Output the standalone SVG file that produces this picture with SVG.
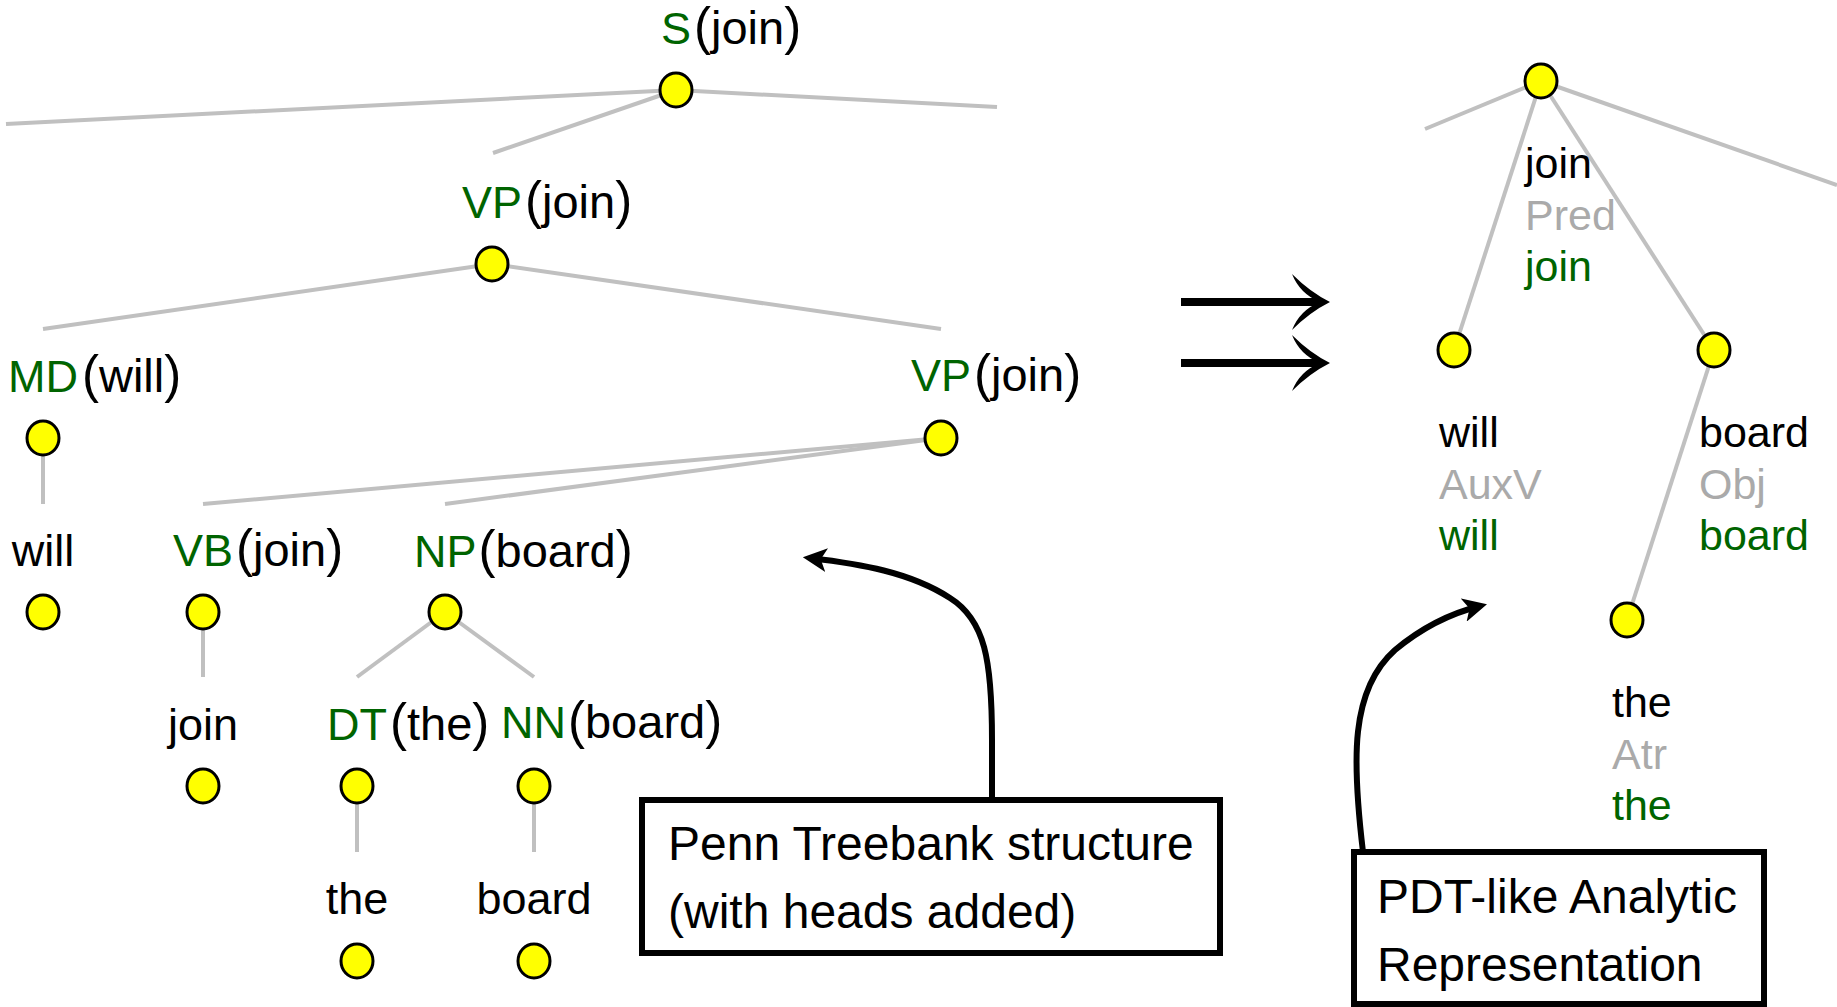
<svg xmlns="http://www.w3.org/2000/svg" width="1837" height="1007" viewBox="0 0 1837 1007">
  <style>
    text { font-family: "Liberation Sans", Arial, sans-serif; fill: #000; }
    .lbl { font-size: 45px; }
    .w { font-size: 47px; }
    .p { font-size: 51px; }
    .rl { font-size: 43px; }
    .box-text { font-size: 48px; }
    .tag { fill: #006400; }
    .func { fill: #aaaaaa; }
    .edge { stroke: #c0c0c0; stroke-width: 4; fill: none; }
    .node { fill: #ffff00; stroke: #000; stroke-width: 3; }
    .callout { stroke: #000; stroke-width: 6; fill: none; marker-end: url(#head); }
    .box { fill: #fff; stroke: #000; stroke-width: 6; }
  </style>
  <defs>
    <marker id="head" viewBox="0 0 10 10" refX="7" refY="5" markerWidth="4" markerHeight="4" orient="auto" markerUnits="strokeWidth">
      <path d="M0,0 L10,5 L0,10 L2.5,5 Z" fill="#000"/>
    </marker>
    <!-- curved double-barb head for the transformation arrows -->
    <path id="barbs" d="M0,0 Q-20,-10 -38,-28 Q-30,-8 -10,0 Q-30,8 -38,28 Q-20,10 0,0 Z" fill="#000"/>
  </defs>

  <rect width="1837" height="1007" fill="#fff"/>

  <!-- tree edges -->
  <g id="connectors">
    <!-- constituency tree -->
    <line class="edge" x1="676" y1="90" x2="6" y2="124"/>
    <line class="edge" x1="676" y1="90" x2="997" y2="107"/>
    <line class="edge" x1="676" y1="90" x2="493" y2="153"/>
    <line class="edge" x1="492" y1="264" x2="43" y2="329"/>
    <line class="edge" x1="492" y1="264" x2="941" y2="329"/>
    <line class="edge" x1="43" y1="438" x2="43" y2="504"/>
    <line class="edge" x1="941" y1="438" x2="203" y2="504"/>
    <line class="edge" x1="941" y1="438" x2="445" y2="504"/>
    <line class="edge" x1="203" y1="612" x2="203" y2="677"/>
    <line class="edge" x1="445" y1="612" x2="357" y2="677"/>
    <line class="edge" x1="445" y1="612" x2="534" y2="677"/>
    <line class="edge" x1="357" y1="786" x2="357" y2="852"/>
    <line class="edge" x1="534" y1="786" x2="534" y2="852"/>
    <!-- dependency tree -->
    <line class="edge" x1="1541" y1="81" x2="1425" y2="129"/>
    <line class="edge" x1="1541" y1="81" x2="1837" y2="185"/>
    <line class="edge" x1="1541" y1="81" x2="1454" y2="350"/>
    <line class="edge" x1="1541" y1="81" x2="1714" y2="350"/>
    <line class="edge" x1="1714" y1="350" x2="1627" y2="620"/>
    <!-- transformation arrows -->
    <line x1="1181" y1="302" x2="1322" y2="302" stroke="#000" stroke-width="8"/>
    <use href="#barbs" x="1330" y="302"/>
    <line x1="1181" y1="363" x2="1322" y2="363" stroke="#000" stroke-width="8"/>
    <use href="#barbs" x="1330" y="363"/>
    <!-- callout pointers -->
    <path class="callout" d="M992,800 L992,740 C992,660 985,620 950,598 C910,572 860,564 810,558"/>
    <path class="callout" d="M1363,852 C1352,760 1350,690 1395,650 C1425,625 1452,613 1480,606"/>
  </g>

  <!-- constituency tree nodes -->
  <g id="n-s">
    <ellipse class="node" cx="676" cy="90" rx="16" ry="17"/>
    <text class="lbl" x="661" y="44"><tspan class="tag">S</tspan><tspan class="p" dx="3">(</tspan><tspan class="w">join</tspan><tspan class="p">)</tspan></text>
  </g>
  <g id="n-vp1">
    <ellipse class="node" cx="492" cy="264" rx="16" ry="17"/>
    <text class="lbl" x="462" y="218"><tspan class="tag">VP</tspan><tspan class="p" dx="3">(</tspan><tspan class="w">join</tspan><tspan class="p">)</tspan></text>
  </g>
  <g id="n-md">
    <ellipse class="node" cx="43" cy="438" rx="16" ry="17"/>
    <text class="lbl" x="8" y="392"><tspan class="tag">MD</tspan><tspan class="p" dx="4">(</tspan><tspan class="w">will</tspan><tspan class="p">)</tspan></text>
  </g>
  <g id="n-vp2">
    <ellipse class="node" cx="941" cy="438" rx="16" ry="17"/>
    <text class="lbl" x="911" y="391"><tspan class="tag">VP</tspan><tspan class="p" dx="3">(</tspan><tspan class="w">join</tspan><tspan class="p">)</tspan></text>
  </g>
  <g id="n-will">
    <ellipse class="node" cx="43" cy="612" rx="16" ry="17"/>
    <text class="lbl" x="43" y="566" text-anchor="middle">will</text>
  </g>
  <g id="n-vb">
    <ellipse class="node" cx="203" cy="612" rx="16" ry="17"/>
    <text class="lbl" x="173" y="566"><tspan class="tag">VB</tspan><tspan class="p" dx="3">(</tspan><tspan class="w">join</tspan><tspan class="p">)</tspan></text>
  </g>
  <g id="n-np">
    <ellipse class="node" cx="445" cy="612" rx="16" ry="17"/>
    <text class="lbl" x="414" y="567"><tspan class="tag">NP</tspan><tspan class="p" dx="2">(</tspan><tspan class="w">board</tspan><tspan class="p">)</tspan></text>
  </g>
  <g id="n-join">
    <ellipse class="node" cx="203" cy="786" rx="16" ry="17"/>
    <text class="lbl" x="203" y="740" text-anchor="middle">join</text>
  </g>
  <g id="n-dt">
    <ellipse class="node" cx="357" cy="786" rx="16" ry="17"/>
    <text class="lbl" x="327" y="740"><tspan class="tag">DT</tspan><tspan class="p" dx="3">(</tspan><tspan class="w">the</tspan><tspan class="p">)</tspan></text>
  </g>
  <g id="n-nn">
    <ellipse class="node" cx="534" cy="786" rx="16" ry="17"/>
    <text class="lbl" x="501" y="738"><tspan class="tag">NN</tspan><tspan class="p" dx="2">(</tspan><tspan class="w">board</tspan><tspan class="p">)</tspan></text>
  </g>
  <g id="n-the">
    <ellipse class="node" cx="357" cy="961" rx="16" ry="17"/>
    <text class="lbl" x="357" y="914" text-anchor="middle">the</text>
  </g>
  <g id="n-board">
    <ellipse class="node" cx="534" cy="961" rx="16" ry="17"/>
    <text class="lbl" x="534" y="914" text-anchor="middle">board</text>
  </g>

  <!-- dependency tree nodes -->
  <g id="d-join">
    <ellipse class="node" cx="1541" cy="81" rx="16" ry="17"/>
    <text class="rl" x="1525" y="178">join</text>
    <text class="rl func" x="1525" y="230">Pred</text>
    <text class="rl tag" x="1525" y="281">join</text>
  </g>
  <g id="d-will">
    <ellipse class="node" cx="1454" cy="350" rx="16" ry="17"/>
    <text class="rl" x="1439" y="447">will</text>
    <text class="rl func" x="1439" y="499">AuxV</text>
    <text class="rl tag" x="1439" y="550">will</text>
  </g>
  <g id="d-board">
    <ellipse class="node" cx="1714" cy="350" rx="16" ry="17"/>
    <text class="rl" x="1699" y="447">board</text>
    <text class="rl func" x="1699" y="499">Obj</text>
    <text class="rl tag" x="1699" y="550">board</text>
  </g>
  <g id="d-the">
    <ellipse class="node" cx="1627" cy="620" rx="16" ry="17"/>
    <text class="rl" x="1612" y="717">the</text>
    <text class="rl func" x="1612" y="769">Atr</text>
    <text class="rl tag" x="1612" y="820">the</text>
  </g>

  <!-- caption boxes -->
  <g id="box-penn">
    <rect class="box" x="642" y="800" width="578" height="153"/>
    <text class="box-text" x="668" y="860">Penn Treebank structure</text>
    <text class="box-text" x="668" y="928">(with heads added)</text>
  </g>
  <g id="box-pdt">
    <rect class="box" x="1354" y="852" width="410" height="152"/>
    <text class="box-text" x="1377" y="913">PDT-like Analytic</text>
    <text class="box-text" x="1377" y="981">Representation</text>
  </g>
</svg>
